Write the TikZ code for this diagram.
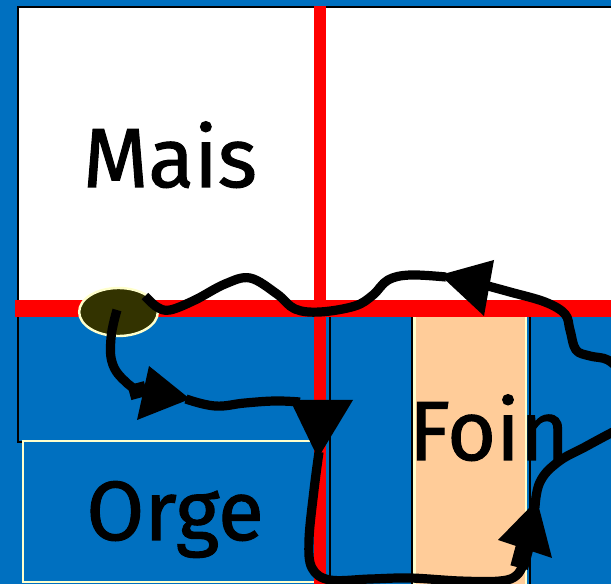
\documentclass[tikz,border=0pt]{standalone}
\usepackage{fontspec}
\setmainfont{Fira Sans}
\newfontfamily\labelfont{Fira Sans}[FakeBold=1.2]
\definecolor{fieldblue}{HTML}{0070C0}
\definecolor{hedge}{HTML}{FF0000}
\definecolor{hay}{HTML}{FFCC99}
\definecolor{cream}{HTML}{FFFFCC}
\definecolor{nest}{HTML}{333300}
\usetikzlibrary{shapes.geometric}
\tikzset{
  route/.style={draw=black, line width=6.9pt, line cap=butt, line join=round},
  tiphead/.style={fill=black},
  fieldlabel/.style={anchor=base, inner sep=0pt, font=\labelfont\fontsize{63}{70}\selectfont},
  fence/.style={draw=black, line width=1.5pt},
}
\begin{document}
\begin{tikzpicture}[x=0.75pt, y=-0.75pt]
\useasboundingbox (0,0) rectangle (611,584);
\clip (0,0) rectangle (611,584);
% ground
\fill[fieldblue] (0,0) rectangle (611,584);
% maize field
\fill[white] (18,7) rectangle (611,300);
\draw[fence] (611,7) -- (18,7) -- (18,442) -- (25,442);
% barley field
\draw[draw=cream, line width=1.8pt, fill=fieldblue] (23,441) rectangle (315,582);
% hay strip
\fill[cream] (413,317) rectangle (527,590);
\fill[hay] (415.5,317) rectangle (524.5,590);
\draw[fence] (330,317) -- (330,590);
\draw[fence] (411.5,317) -- (411.5,590);
\draw[fence] (529.5,317) -- (529.5,590);
% hedges
\fill[hedge] (15,300) rectangle (611,317);
\fill[hedge] (314,6) rectangle (326,590);
% field names
\node[fieldlabel] (mais) at (170,187) {Mais};
\node[fieldlabel] (orge) at (175,540) {Orge};
\node[fieldlabel] (foin) at (489,460) {Foin};
% nest
\node[ellipse, draw=cream, line width=1.8pt, fill=nest, minimum width=59pt, minimum height=36pt, inner sep=0pt] (den) at (118.5,312) {};
% outward route
\coordinate (r1) at (117,310);
\draw[route] plot[smooth, tension=0.7] coordinates {(r1) (111,338) (113,365) (128,384) (140,391)};
\fill[tiphead, rotate around={15:(138,390)}] (129,383) rectangle (146,398);
\fill[tiphead] (149,366) -- (190,399) -- (137,420) -- cycle;
\draw[route] plot[smooth, tension=0.7] coordinates {(186,399) (215,406) (245,403) (275,401) (300,402)};
\fill[tiphead] (290,400) -- (353,400) -- (318,458) -- cycle;
\draw[route] plot[smooth, tension=0.6] coordinates {(319,452) (314,490) (309,540) (312,568) (330,580) (370,579) (410,578) (460,581) (500,581) (517,575) (526,558)};
\fill[tiphead, rotate around={-15:(522,557)}] (513,546) rectangle (531,568);
\fill[tiphead] (537,500) -- (552,558) -- (498,540) -- cycle;
\draw[route] plot[smooth, tension=0.7] coordinates {(535,508) (540,482) (558,462) (585,447) (611,433) (625,426)};
% return route
\draw[route] plot[smooth, tension=0.6] coordinates {(625,375) (608,360) (590,356) (576,350) (570,330) (565,314) (545,302) (510,292) (488,286)};
\fill[tiphead] (440,275) -- (494,260) -- (484,316) -- cycle;
\coordinate (r2) at (145,296);
\draw[route] plot[smooth, tension=0.6] coordinates {(446,277) (410,275) (388,280) (373,295) (355,306) (320,312) (295,309) (277,294) (250,278) (225,284) (195,300) (170,310) (157,307) (r2)};
\end{tikzpicture}
\end{document}
